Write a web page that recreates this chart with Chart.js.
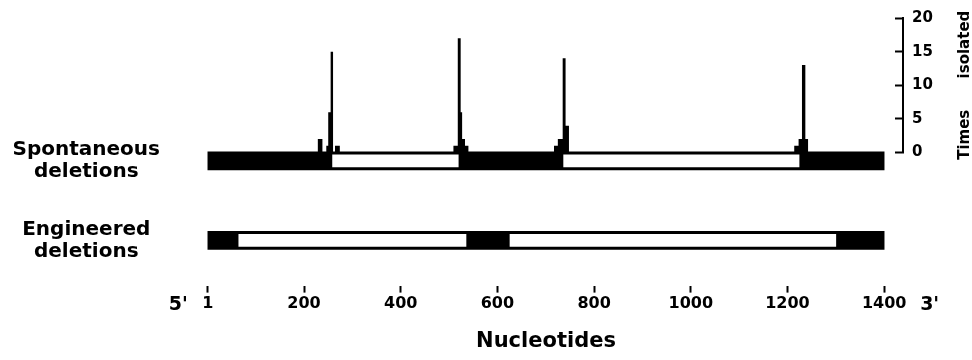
<!DOCTYPE html>
<html>
<head>
<meta charset="utf-8">
<script src="https://cdn.jsdelivr.net/npm/chart.js@4.4.1/dist/chart.umd.min.js"></script>
<style>
  html, body { margin: 0; padding: 0; background: #fff; }
  #wrap { width: 972px; height: 360px; position: relative; }
</style>
</head>
<body>
<div id="wrap"><canvas id="deletionChart"></canvas></div>
<script>
// gene runs from nucleotide 1 to 1400
const sequenceRange = [1, 1400];
const nucleotideTicks = [1, 200, 400, 600, 800, 1000, 1200, 1400];
const timesTicks = [0, 5, 10, 15, 20];

// deleted (white) stretches of each construct
const trackNames = [['Spontaneous', 'deletions'], ['Engineered', 'deletions']];
const spontaneousGaps = [[259, 519], [737, 1224]];
const engineeredGaps = [[65, 535], [626, 1300]];

// histogram of deletion end points
const binStart = [228, 246, 250, 255, 264, 509, 518, 524, 527, 533, 717, 725, 735, 741, 1214, 1223, 1230, 1237];
const binEnd = [238, 250, 255, 260, 274, 518, 524, 527, 533, 540, 725, 735, 741, 748, 1223, 1230, 1237, 1243];
const timesIsolated = [2, 1, 6, 15, 1, 1, 17, 6, 2, 1, 1, 2, 14, 4, 1, 2, 13, 2];

// stepped outline of the histogram
const histPoints = [];
binStart.forEach((start, i) => {
    histPoints.push({ x: start, y: timesIsolated[i] });
    if (binStart[i + 1] !== binEnd[i]) {
        histPoints.push({ x: binEnd[i], y: 0 });
    }
});

const boldFont = (size, lineHeight) => ({
    family: '"DejaVu Sans", sans-serif',
    weight: 'bold',
    size: size,
    lineHeight: lineHeight || 1.2
});

// 5' / 3' ends and the rotated right-hand title
const sideLabels = {
    id: 'sideLabels',
    afterDraw(chart) {
        const { ctx, scales: { x, y } } = chart;
        ctx.save();
        ctx.fillStyle = '#000';
        ctx.textBaseline = 'alphabetic';
        ctx.font = 'bold 19px "DejaVu Sans"';
        const labelY = x.top + 24;
        ctx.textAlign = 'right';
        ctx.fillText("5'", x.getPixelForValue(sequenceRange[0]) - 20, labelY);
        ctx.textAlign = 'left';
        ctx.fillText("3'", x.getPixelForValue(sequenceRange[1]) + 36, labelY);

        ctx.font = 'bold 15px "DejaVu Sans"';
        ctx.textBaseline = 'middle';
        ctx.translate(y.right + 32, (y.top + y.bottom) / 2);
        ctx.rotate(-Math.PI / 2);
        ctx.textAlign = 'center';
        ctx.fillText('Times      isolated', 0, 0);
        ctx.restore();
    }
};

const ctx = document.getElementById('deletionChart').getContext('2d');

const chart = new Chart(ctx, {
    type: 'bar',
    data: {
        datasets: [
            {
                type: 'line',
                label: 'Times isolated',
                data: histPoints,
                xAxisID: 'x',
                yAxisID: 'y',
                stepped: true,
                fill: 'origin',
                backgroundColor: '#000',
                borderColor: 'rgba(0,0,0,0)',
                borderWidth: 0,
                pointRadius: 0,
                order: 0
            },
            {
                label: 'Full length',
                indexAxis: 'y',
                xAxisID: 'x',
                yAxisID: 'yTrack',
                data: trackNames.map((n, i) => ({ y: i + 1, x: sequenceRange })),
                backgroundColor: '#000',
                borderWidth: 0,
                barThickness: 18,
                grouped: false,
                order: 2
            },
            {
                label: 'Spontaneous gaps',
                indexAxis: 'y',
                xAxisID: 'x',
                yAxisID: 'yTrack',
                data: spontaneousGaps.map(g => ({ y: 1, x: g })),
                backgroundColor: '#fff',
                borderWidth: 0,
                barThickness: 12,
                grouped: false,
                order: 1
            },
            {
                label: 'Engineered gaps',
                indexAxis: 'y',
                xAxisID: 'x',
                yAxisID: 'yTrack',
                data: engineeredGaps.map(g => ({ y: 2, x: g })),
                backgroundColor: '#fff',
                borderWidth: 0,
                barThickness: 12,
                grouped: false,
                order: 1
            }
        ]
    },
    options: {
        responsive: true,
        maintainAspectRatio: false,
        animation: false,
        devicePixelRatio: 1,
        layout: {
            padding: { left: 6, right: 39, top: 18, bottom: 0 }
        },
        plugins: {
            legend: { display: false },
            tooltip: { enabled: false }
        },
        scales: {
            x: {
                type: 'linear',
                position: 'bottom',
                offset: false,
                min: -38,
                max: 1439,
                afterBuildTicks: (scale) => {
                    scale.ticks = nucleotideTicks.map(v => ({ value: v }));
                },
                ticks: {
                    color: '#000',
                    font: boldFont(16),
                    padding: 2,
                    maxRotation: 0,
                    autoSkip: false,
                    callback: (v) => String(v)
                },
                grid: {
                    offset: false,
                    drawOnChartArea: false,
                    drawTicks: true,
                    tickLength: 7,
                    tickWidth: 2,
                    tickColor: '#000'
                },
                border: { display: false },
                title: {
                    display: true,
                    text: 'Nucleotides',
                    color: '#000',
                    font: boldFont(21),
                    padding: { top: 13, bottom: 6 }
                }
            },
            y: {
                type: 'linear',
                position: 'right',
                stack: 'right',
                stackWeight: 134,
                min: 0,
                max: 20,
                afterBuildTicks: (scale) => {
                    scale.ticks = timesTicks.map(v => ({ value: v }));
                },
                afterFit: (scale) => {
                    scale.width = 30;
                    scale.paddingTop = 0;
                    scale.paddingBottom = 0;
                },
                ticks: {
                    color: '#000',
                    font: boldFont(15),
                    padding: 17
                },
                grid: {
                    drawOnChartArea: false,
                    drawTicks: true,
                    tickLength: -8,
                    tickWidth: 2,
                    tickColor: '#000'
                },
                border: { display: true, color: '#000', width: 2 }
            },
            yBelow: {
                type: 'linear',
                display: false,
                position: 'right',
                stack: 'right',
                stackWeight: 132.5
            },
            yTrack: {
                type: 'linear',
                position: 'left',
                offset: false,
                reverse: true,
                min: -0.8,
                max: 2.57,
                afterBuildTicks: (scale) => {
                    scale.ticks = trackNames.map((n, i) => ({ value: i + 1 }));
                },
                afterFit: (scale) => {
                    scale.width = 183;
                    scale.paddingTop = 0;
                    scale.paddingBottom = 0;
                },
                ticks: {
                    color: '#000',
                    font: boldFont(20, 1.1),
                    crossAlign: 'center',
                    padding: 29,
                    callback: (v) => trackNames[v - 1]
                },
                grid: { display: false, drawTicks: false, offset: false },
                border: { display: false }
            }
        }
    },
    plugins: [sideLabels]
});
</script>
</body>
</html>
